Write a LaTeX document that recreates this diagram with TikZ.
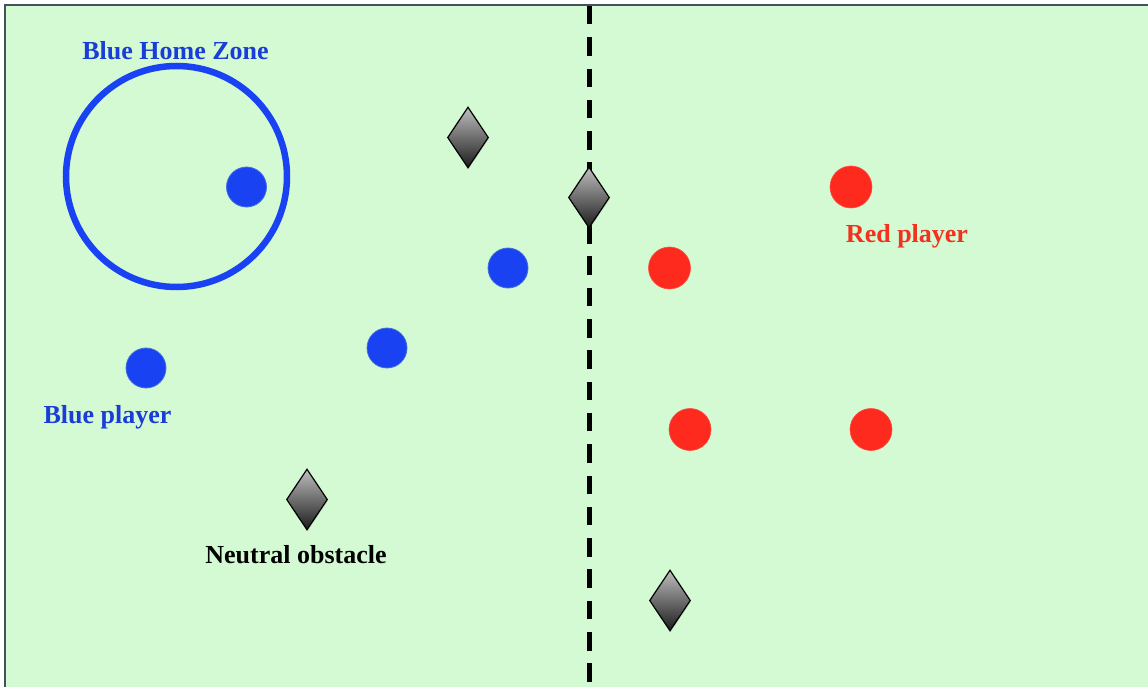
\documentclass[tikz,border=0pt]{standalone}
\usepackage{fontspec}
\setmainfont{Liberation Serif}
\usetikzlibrary{shapes.geometric,shadows}

\definecolor{field}{RGB}{212,250,212}
\definecolor{frameline}{RGB}{70,80,92}
\definecolor{teamblue}{RGB}{24,66,242}
\definecolor{blueedge}{RGB}{70,110,225}
\definecolor{bluetext}{RGB}{26,60,215}
\definecolor{teamred}{RGB}{255,42,30}
\definecolor{redtext}{RGB}{240,50,30}
\definecolor{stonetop}{RGB}{190,190,190}
\definecolor{stonebot}{RGB}{28,28,28}

\tikzset{
  blueplayer/.style={circle, minimum size=40pt, inner sep=0pt, fill=teamblue, draw=blueedge, line width=0.8pt},
  redplayer/.style={circle, minimum size=42pt, inner sep=0pt, fill=teamred, draw=teamred!85!white, line width=0.6pt},
  obstacle/.style={diamond, minimum width=41pt, minimum height=61pt, inner sep=0pt,
    draw=black, line width=1.2pt, top color=stonetop, bottom color=stonebot,
    drop shadow={opacity=0.25, shadow xshift=0.6pt, shadow yshift=-1.5pt}},
  caption/.style={font=\bfseries\fontsize{26}{30}\selectfont, anchor=base, inner sep=0pt},
  midline/.style={line width=4.5pt, dash pattern=on 18.5pt off 12.8pt},
}

\begin{document}
\begin{tikzpicture}[x=1pt, y=-1pt]
  \useasboundingbox (0,0) rectangle (1148,687);
  \fill[white] (0,0) rectangle (1148,687);

  % playing field with its frame
  \fill[field] (5,5) rectangle (1160,700);
  \draw[frameline, line width=2pt] (1160,5) -- (5,5) -- (5,700);

  % centre line
  \coordinate (lineTop) at (589.3,6);
  \coordinate (lineBot) at (589.3,700);
  \draw[midline] (lineTop) -- (lineBot);

  % blue home zone
  \node[circle, draw=teamblue, line width=6.5pt, minimum size=221pt, inner sep=0pt] (home) at (176.5,176.5) {};
  \node[caption, text=bluetext] (homeLabel) at (175.5,60) {Blue Home Zone};

  % blue players
  \node[blueplayer] (b1) at (246.5,187) {};
  \node[blueplayer] (b2) at (508,268) {};
  \node[blueplayer] (b3) at (387,348) {};
  \node[blueplayer] (b4) at (146,368) {};
  \node[caption, text=bluetext] (blueLabel) at (107.5,423) {Blue player};

  % red players
  \node[redplayer] (r1) at (851,187) {};
  \node[redplayer] (r2) at (669.5,268) {};
  \node[redplayer] (r3) at (690,429.5) {};
  \node[redplayer] (r4) at (871,429.5) {};
  \node[caption, text=redtext] (redLabel) at (907,242) {Red player};

  % neutral obstacles
  \node[obstacle] (o1) at (468,137.5) {};
  \node[obstacle] (o2) at (589,197.5) {};
  \node[obstacle] (o3) at (307,499.5) {};
  \node[obstacle] (o4) at (670,600.5) {};
  \node[caption, text=black] (obsLabel) at (296,563.5) {Neutral obstacle};
\end{tikzpicture}
\end{document}
